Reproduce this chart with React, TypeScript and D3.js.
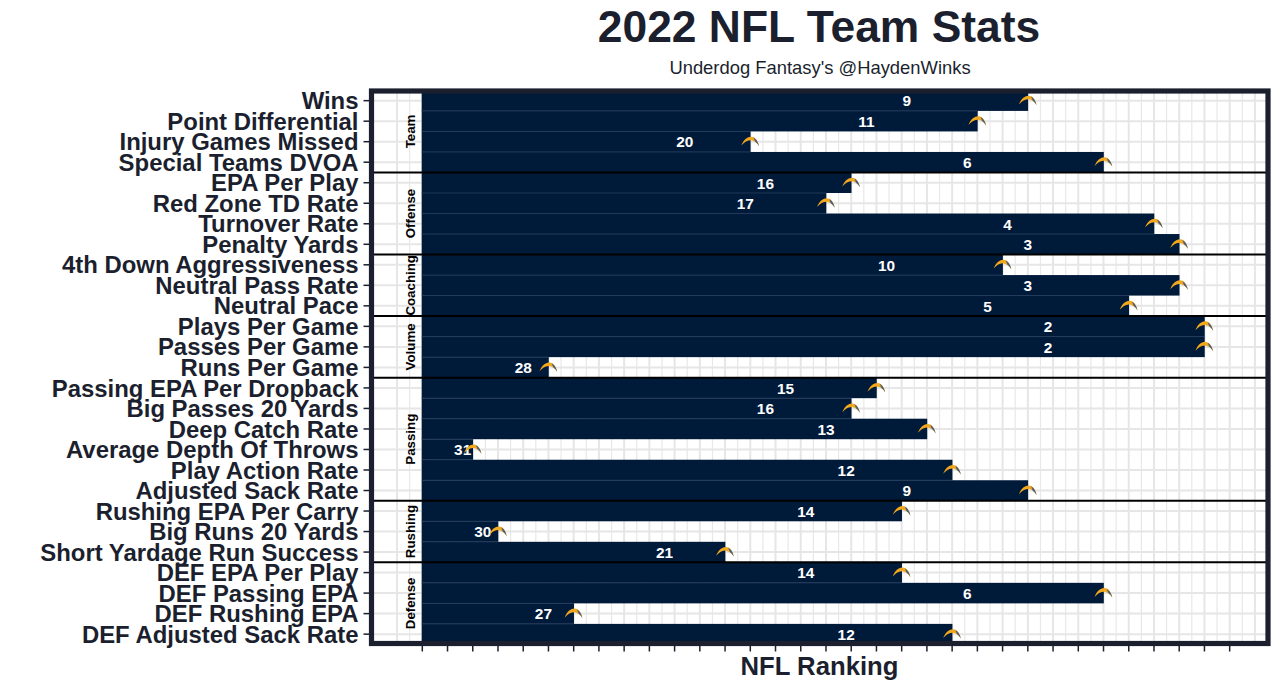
import React from "react";
import * as d3 from "d3";

const metrics = ["Wins","Point Differential","Injury Games Missed","Special Teams DVOA","EPA Per Play","Red Zone TD Rate","Turnover Rate","Penalty Yards","4th Down Aggressiveness","Neutral Pass Rate","Neutral Pace","Plays Per Game","Passes Per Game","Runs Per Game","Passing EPA Per Dropback","Big Passes 20 Yards","Deep Catch Rate","Average Depth Of Throws","Play Action Rate","Adjusted Sack Rate","Rushing EPA Per Carry","Big Runs 20 Yards","Short Yardage Run Success","DEF EPA Per Play","DEF Passing EPA","DEF Rushing EPA","DEF Adjusted Sack Rate"];
const ranks = [9,11,20,6,16,17,4,3,10,3,5,2,2,28,15,16,13,31,12,9,14,30,21,14,6,27,12];
const groups = ["Team","Offense","Coaching","Volume","Passing","Rushing","Defense"];
const groupSizes = [4,4,3,3,6,3,4];
const rankTicks = d3.range(33, 0, -1);
const gridMajor = d3.range(34, -1, -1);
const gridMinor = d3.range(33.5, 0, -1);

const W = 1280, H = 691;
const FONT = "'Liberation Sans', Arial, sans-serif";
const INK = "#1b1f2e";
const NAVY = "#001a3a";
const x = d3.scaleLinear().domain([33, 0]).range([422.3, 1254.9]);
const y = d3.scaleLinear().domain([0, 27]).range([90.4, 644.4]);
const rowH = y(1) - y(0);
const panel = { l: 371.5, r: 1268, t: 91, b: 643.5 };
const offsets: number[] = Array.from(d3.cumsum(groupSizes));
const clipId = "panel-clip";

function Bolt({ cx, cy }: { cx: number; cy: number }) {
  return (
    <g transform={`translate(${cx},${cy})`}>
      <path d="M-9,3.8 C-6.4,-2.6 -2.4,-5.2 1,-5 C5.2,-4.7 7.6,-1 8.8,4.6 C6.8,1.2 4.2,-1 0.8,-1.4 C-3,-1.8 -6,0.6 -9,3.8Z" fill="#f2a81e" />
      <path d="M3.2,-4.2 C5.8,-3 7.6,-0.4 8.8,4.6 C7.7,2.7 6.3,1 4.8,-0.1" fill="#4a5f7c" />
    </g>
  );
}

export default function App() {
  const start = x(33);
  return (
    <svg width={W} height={H} viewBox={`0 0 ${W} ${H}`} style={{ position: "absolute", left: 0, top: 0, background: "#fff" }} fontFamily={FONT}>
      <defs>
        <clipPath id={clipId}><rect x={panel.l} y={panel.t} width={panel.r - panel.l} height={panel.b - panel.t} /></clipPath>
      </defs>
      <text x={819} y={42} textAnchor="middle" fontSize={44.4} fontWeight={700} fill={INK}>2022 NFL Team Stats</text>
      <text x={820} y={74} textAnchor="middle" fontSize={18.4} fill={INK}>Underdog Fantasy's @HaydenWinks</text>

      <g clipPath={`url(#${clipId})`}>
        {gridMinor.map(r => <line key={r} x1={x(r)} x2={x(r)} y1={panel.t} y2={panel.b} stroke="#e8e8e8" strokeWidth={1.2} />)}
        {gridMajor.map(r => <line key={r} x1={x(r)} x2={x(r)} y1={panel.t} y2={panel.b} stroke="#e6e6e6" strokeWidth={2} />)}
        {metrics.map((m, i) => <line key={m} x1={panel.l} x2={panel.r} y1={y(i + 0.5)} y2={y(i + 0.5)} stroke="#e6e6e6" strokeWidth={2} />)}
        {ranks.map((r, i) => (
          <rect key={i} x={start - 0.6} y={y(i)} width={x(r) - start + 0.9} height={rowH} fill={NAVY} />
        ))}
        {ranks.map((r, i) => {
          if (i === 0 || offsets.includes(i)) return null;
          const end = Math.min(x(r), x(ranks[i - 1]));
          return <line key={i} x1={start - 0.6} x2={end} y1={y(i)} y2={y(i)} stroke="#22395a" strokeWidth={1} />;
        })}
        {offsets.slice(0, -1).map(o => <line key={o} x1={panel.l} x2={panel.r} y1={y(o)} y2={y(o)} stroke="#000" strokeWidth={2} />)}
      </g>

      {groups.map((g, k) => {
        const a = k === 0 ? 0 : offsets[k - 1];
        const cy = y(a + groupSizes[k] / 2);
        return <text key={g} transform={`translate(414.8,${cy}) rotate(-90)`} textAnchor="middle" fontSize={13.3} fontWeight={700} fill="#000">{g}</text>;
      })}

      {ranks.map((r, i) => (
        <text key={i} x={start + (x(r) - start) * 0.8} y={y(i + 0.5) + 5.8} textAnchor="middle" fontSize={15.4} fontWeight={700} fill="#fff">{r}</text>
      ))}
      {ranks.map((r, i) => <Bolt key={i} cx={x(r)} cy={y(i + 0.5)} />)}

      <rect x={panel.l} y={panel.t} width={panel.r - panel.l} height={panel.b - panel.t} fill="none" stroke={INK} strokeWidth={5.2} />

      {metrics.map((m, i) => (
        <g key={m}>
          <line x1={363.5} x2={369} y1={y(i + 0.5)} y2={y(i + 0.5)} stroke={INK} strokeWidth={1.5} />
          <text x={358.5} y={y(i + 0.5) + 8.6} textAnchor="end" fontSize={23.9} fontWeight={700} fill={INK}>{m}</text>
        </g>
      ))}
      {rankTicks.map(r => <line key={r} x1={x(r)} x2={x(r)} y1={646} y2={651.5} stroke={INK} strokeWidth={1.5} />)}
      <text x={819.5} y={675} textAnchor="middle" fontSize={25.7} fontWeight={700} fill={INK}>NFL Ranking</text>
    </svg>
  );
}
